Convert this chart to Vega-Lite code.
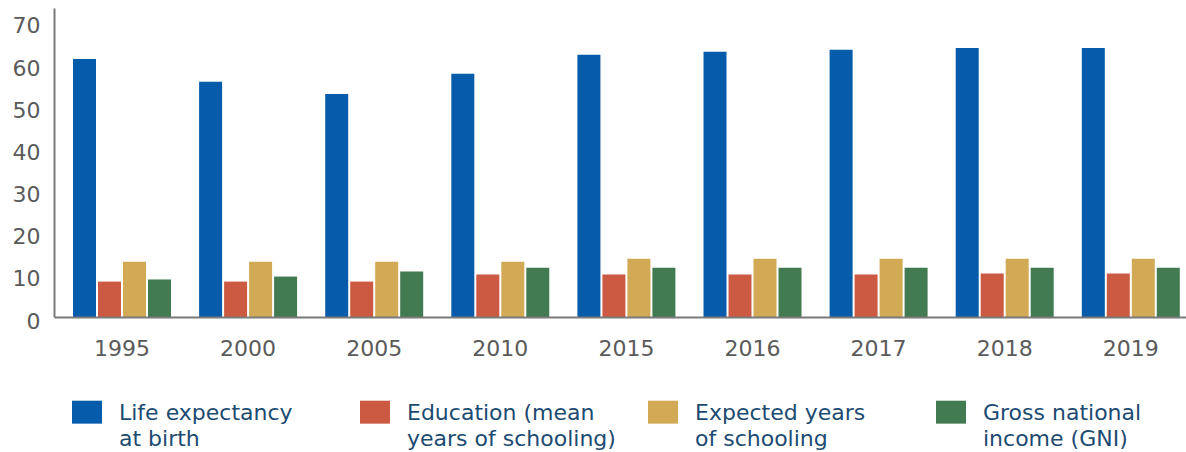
{
  "$schema": "https://vega.github.io/schema/vega-lite/v6.json",
  "width": 1132,
  "height": 309,
  "autosize": {"type": "none"},
  "padding": {"left": 54, "top": 8, "right": 0, "bottom": 135},
  "background": "white",
  "config": {"view": {"stroke": null}, "font": "DejaVu Sans", "style": {"guide-label": {"lineHeight": 26}}},
  "data": {
    "values": [
      {"year": "1995", "series": "Life expectancy at birth", "value": 61.2},
      {"year": "1995", "series": "Education (mean years of schooling)", "value": 8.4},
      {"year": "1995", "series": "Expected years of schooling", "value": 13.1},
      {"year": "1995", "series": "Gross national income (GNI)", "value": 8.9},
      {"year": "2000", "series": "Life expectancy at birth", "value": 55.8},
      {"year": "2000", "series": "Education (mean years of schooling)", "value": 8.4},
      {"year": "2000", "series": "Expected years of schooling", "value": 13.1},
      {"year": "2000", "series": "Gross national income (GNI)", "value": 9.6},
      {"year": "2005", "series": "Life expectancy at birth", "value": 52.9},
      {"year": "2005", "series": "Education (mean years of schooling)", "value": 8.4},
      {"year": "2005", "series": "Expected years of schooling", "value": 13.1},
      {"year": "2005", "series": "Gross national income (GNI)", "value": 10.8},
      {"year": "2010", "series": "Life expectancy at birth", "value": 57.7},
      {"year": "2010", "series": "Education (mean years of schooling)", "value": 10.1},
      {"year": "2010", "series": "Expected years of schooling", "value": 13.1},
      {"year": "2010", "series": "Gross national income (GNI)", "value": 11.7},
      {"year": "2015", "series": "Life expectancy at birth", "value": 62.2},
      {"year": "2015", "series": "Education (mean years of schooling)", "value": 10.1},
      {"year": "2015", "series": "Expected years of schooling", "value": 13.8},
      {"year": "2015", "series": "Gross national income (GNI)", "value": 11.7},
      {"year": "2016", "series": "Life expectancy at birth", "value": 62.9},
      {"year": "2016", "series": "Education (mean years of schooling)", "value": 10.1},
      {"year": "2016", "series": "Expected years of schooling", "value": 13.8},
      {"year": "2016", "series": "Gross national income (GNI)", "value": 11.7},
      {"year": "2017", "series": "Life expectancy at birth", "value": 63.4},
      {"year": "2017", "series": "Education (mean years of schooling)", "value": 10.1},
      {"year": "2017", "series": "Expected years of schooling", "value": 13.8},
      {"year": "2017", "series": "Gross national income (GNI)", "value": 11.7},
      {"year": "2018", "series": "Life expectancy at birth", "value": 63.8},
      {"year": "2018", "series": "Education (mean years of schooling)", "value": 10.3},
      {"year": "2018", "series": "Expected years of schooling", "value": 13.8},
      {"year": "2018", "series": "Gross national income (GNI)", "value": 11.7},
      {"year": "2019", "series": "Life expectancy at birth", "value": 63.8},
      {"year": "2019", "series": "Education (mean years of schooling)", "value": 10.3},
      {"year": "2019", "series": "Expected years of schooling", "value": 13.8},
      {"year": "2019", "series": "Gross national income (GNI)", "value": 11.7}
    ]
  },
  "mark": {"type": "bar"},
  "encoding": {
    "x": {
      "field": "year",
      "type": "nominal",
      "sort": null,
      "scale": {"paddingInner": 0.223, "paddingOuter": 0.1, "align": 0.754},
      "axis": {
        "title": null,
        "labelAngle": 0,
        "labelFontSize": 22,
        "labelColor": "#5a5a5a",
        "labelPadding": 21,
        "ticks": false,
        "tickSize": 0,
        "domainColor": "#7a7a7a",
        "domainWidth": 2,
        "zindex": 1
      }
    },
    "xOffset": {
      "field": "series",
      "type": "nominal",
      "sort": ["Life expectancy at birth", "Education (mean years of schooling)", "Expected years of schooling", "Gross national income (GNI)"],
      "scale": {"paddingInner": 0.08, "paddingOuter": 0}
    },
    "y": {
      "field": "value",
      "type": "quantitative",
      "scale": {"domain": [0, 73.3], "nice": false},
      "axis": {
        "title": null,
        "values": [0, 10, 20, 30, 40, 50, 60, 70],
        "grid": false,
        "ticks": false,
        "tickSize": 0,
        "labelPadding": 14,
        "labelOffset": 4,
        "labelFontSize": 22,
        "labelColor": "#5a5a5a",
        "domainColor": "#7a7a7a",
        "domainWidth": 2
      }
    },
    "color": {
      "field": "series",
      "type": "nominal",
      "sort": ["Life expectancy at birth", "Education (mean years of schooling)", "Expected years of schooling", "Gross national income (GNI)"],
      "scale": {
        "domain": ["Life expectancy at birth", "Education (mean years of schooling)", "Expected years of schooling", "Gross national income (GNI)"],
        "range": ["#065BAA", "#CC5A42", "#D2A955", "#427A52"]
      },
      "legend": {
        "orient": "none",
        "legendX": 18,
        "legendY": 379.5,
        "direction": "horizontal",
        "columns": 4,
        "gridAlign": "all",
        "columnPadding": 32,
        "title": null,
        "padding": 0,
        "symbolType": "M-1,-0.12H1V1.41H-1Z",
        "symbolSize": 900,
        "symbolStrokeWidth": 0,
        "symbolOpacity": 1,
        "labelFontSize": 22,
        "labelColor": "#1c4b72",
        "labelOffset": 17,
        "labelLimit": 400,
        "labelBaseline": "top",
        "labelExpr": "datum.label == 'Life expectancy at birth' ? ['Life expectancy', 'at birth'] : datum.label == 'Education (mean years of schooling)' ? ['Education (mean', 'years of schooling)'] : datum.label == 'Expected years of schooling' ? ['Expected years', 'of schooling'] : ['Gross national', 'income (GNI)']"
      }
    }
  }
}
